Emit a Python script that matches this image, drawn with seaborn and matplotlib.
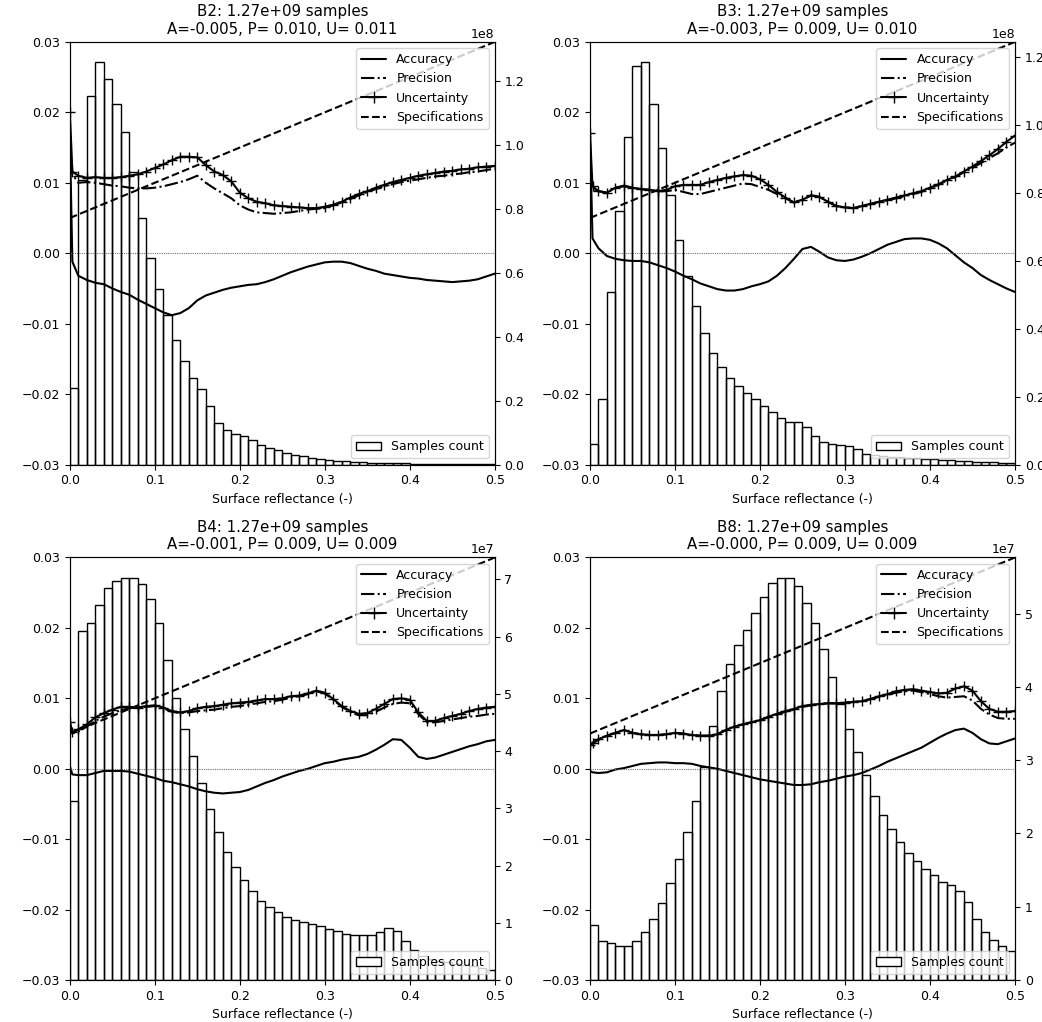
import numpy as np
import matplotlib
matplotlib.use("Agg")
import matplotlib.pyplot as plt
from matplotlib.patches import Patch
from matplotlib.lines import Line2D
import seaborn as sns

# --- data ---
bands = ["B2", "B3", "B4", "B8"]
n_samples = ["1.27e+09", "1.27e+09", "1.27e+09", "1.27e+09"]
acc_mean = ["-0.005", "-0.003", "-0.001", "-0.000"]
prec_mean = ["0.010", "0.009", "0.009", "0.009"]
unc_mean = ["0.011", "0.010", "0.009", "0.009"]

# reflectance grid of the curves
refl = [0.0, 0.003] + [round(0.01 * i, 2) for i in range(1, 51)]

b2_acc = [0.0168, -0.0012, -0.0032, -0.0038, -0.0042, -0.0044, -0.0050, -0.0055, -0.0059, -0.0066,
          -0.0072, -0.0078, -0.0084, -0.0088, -0.0085, -0.0078, -0.0067, -0.0060, -0.0056, -0.0052,
          -0.0049, -0.0047, -0.0045, -0.0044, -0.0041, -0.0037, -0.0032, -0.0027, -0.0023, -0.0019,
          -0.0016, -0.0013, -0.0012, -0.0012, -0.0014, -0.0018, -0.0022, -0.0025, -0.0029, -0.0031,
          -0.0033, -0.0035, -0.0036, -0.0038, -0.0039, -0.0040, -0.0041, -0.0040, -0.0039, -0.0037,
          -0.0033, -0.0029]
b2_prec = [0.0130, 0.0112, 0.0100, 0.0101, 0.0100, 0.0098, 0.0096, 0.0095, 0.0093, 0.0092,
           0.0092, 0.0093, 0.0095, 0.0098, 0.0101, 0.0105, 0.0110, 0.0100, 0.0092, 0.0085,
           0.0078, 0.0068, 0.0062, 0.0058, 0.0057, 0.0056, 0.0057, 0.0058, 0.0060, 0.0062,
           0.0063, 0.0064, 0.0068, 0.0072, 0.0077, 0.0082, 0.0087, 0.0091, 0.0095, 0.0098,
           0.0101, 0.0103, 0.0105, 0.0107, 0.0109, 0.0110, 0.0112, 0.0113, 0.0115, 0.0116,
           0.0118, 0.0120]
b2_unc = [0.0201, 0.0116, 0.0110, 0.0107, 0.0108, 0.0107, 0.0107, 0.0108, 0.0110, 0.0112,
          0.0116, 0.0121, 0.0126, 0.0132, 0.0137, 0.0137, 0.0136, 0.0125, 0.0116, 0.0111,
          0.0102, 0.0086, 0.0078, 0.0073, 0.0071, 0.0068, 0.0067, 0.0066, 0.0065, 0.0064,
          0.0064, 0.0066, 0.0069, 0.0073, 0.0079, 0.0084, 0.0088, 0.0093, 0.0097, 0.0101,
          0.0104, 0.0107, 0.0110, 0.0112, 0.0114, 0.0116, 0.0117, 0.0119, 0.0120, 0.0122,
          0.0123, 0.0124]

b3_acc = [0.0170, 0.0021, 0.0007, -0.0004, -0.0008, -0.0010, -0.0011, -0.0011, -0.0013, -0.0017,
          -0.0021, -0.0026, -0.0032, -0.0037, -0.0043, -0.0047, -0.0051, -0.0053, -0.0053, -0.0051,
          -0.0047, -0.0044, -0.0040, -0.0032, -0.0021, -0.0008, 0.0006, 0.0009, 0.0002, -0.0006,
          -0.0010, -0.0011, -0.0009, -0.0005, 0.0000, 0.0006, 0.0012, 0.0016, 0.0020, 0.0021,
          0.0021, 0.0019, 0.0014, 0.0007, -0.0003, -0.0013, -0.0021, -0.0031, -0.0038, -0.0044,
          -0.0050, -0.0055]
b3_prec = [0.0120, 0.0092, 0.0088, 0.0086, 0.0093, 0.0095, 0.0093, 0.0091, 0.0090, 0.0088,
           0.0088, 0.0090, 0.0087, 0.0084, 0.0084, 0.0087, 0.0090, 0.0093, 0.0096, 0.0099,
           0.0098, 0.0094, 0.0090, 0.0084, 0.0078, 0.0072, 0.0076, 0.0082, 0.0080, 0.0073,
           0.0067, 0.0065, 0.0064, 0.0067, 0.0070, 0.0073, 0.0075, 0.0078, 0.0081, 0.0084,
           0.0087, 0.0092, 0.0097, 0.0103, 0.0108, 0.0115, 0.0121, 0.0128, 0.0135, 0.0142,
           0.0150, 0.0157]
b3_unc = [0.0170, 0.0095, 0.0088, 0.0086, 0.0093, 0.0096, 0.0093, 0.0091, 0.0090, 0.0088,
          0.0090, 0.0095, 0.0097, 0.0097, 0.0097, 0.0101, 0.0104, 0.0107, 0.0109, 0.0111,
          0.0110, 0.0105, 0.0097, 0.0087, 0.0079, 0.0072, 0.0076, 0.0082, 0.0080, 0.0073,
          0.0067, 0.0065, 0.0064, 0.0067, 0.0070, 0.0073, 0.0076, 0.0079, 0.0082, 0.0085,
          0.0088, 0.0093, 0.0098, 0.0104, 0.0109, 0.0116, 0.0123, 0.0131, 0.0139, 0.0148,
          0.0158, 0.0167]

b4_acc = [0.0004, -0.0008, -0.0009, -0.0009, -0.0006, -0.0003, -0.0003, -0.0003, -0.0004, -0.0007,
          -0.0010, -0.0013, -0.0017, -0.0019, -0.0022, -0.0025, -0.0029, -0.0032, -0.0034, -0.0035,
          -0.0034, -0.0033, -0.0030, -0.0025, -0.0020, -0.0016, -0.0011, -0.0007, -0.0003, 0.0000,
          0.0004, 0.0008, 0.0010, 0.0013, 0.0015, 0.0017, 0.0021, 0.0027, 0.0034, 0.0042,
          0.0041, 0.0030, 0.0017, 0.0014, 0.0016, 0.0020, 0.0024, 0.0028, 0.0032, 0.0035,
          0.0039, 0.0041]
b4_prec = [0.0065, 0.0050, 0.0053, 0.0060, 0.0068, 0.0074, 0.0079, 0.0083, 0.0086, 0.0087,
           0.0088, 0.0089, 0.0086, 0.0081, 0.0079, 0.0080, 0.0082, 0.0083, 0.0084, 0.0086,
           0.0088, 0.0089, 0.0091, 0.0093, 0.0095, 0.0096, 0.0098, 0.0101, 0.0103, 0.0106,
           0.0110, 0.0107, 0.0098, 0.0088, 0.0081, 0.0076, 0.0076, 0.0081, 0.0087, 0.0092,
           0.0094, 0.0093, 0.0078, 0.0066, 0.0066, 0.0068, 0.0070, 0.0072, 0.0074, 0.0075,
           0.0077, 0.0078]
b4_unc = [0.0066, 0.0052, 0.0056, 0.0063, 0.0073, 0.0079, 0.0084, 0.0088, 0.0088, 0.0087,
          0.0089, 0.0090, 0.0087, 0.0082, 0.0080, 0.0082, 0.0086, 0.0088, 0.0089, 0.0091,
          0.0093, 0.0094, 0.0095, 0.0097, 0.0099, 0.0099, 0.0100, 0.0103, 0.0104, 0.0107,
          0.0111, 0.0108, 0.0099, 0.0089, 0.0082, 0.0078, 0.0079, 0.0085, 0.0092, 0.0099,
          0.0100, 0.0098, 0.0080, 0.0068, 0.0068, 0.0072, 0.0075, 0.0078, 0.0082, 0.0085,
          0.0087, 0.0088]

b8_acc = [-0.0003, -0.0005, -0.0006, -0.0005, -0.0001, 0.0001, 0.0004, 0.0007, 0.0008, 0.0009,
          0.0009, 0.0008, 0.0008, 0.0007, 0.0004, 0.0002, 0.0000, -0.0003, -0.0006, -0.0009,
          -0.0012, -0.0015, -0.0017, -0.0019, -0.0021, -0.0023, -0.0023, -0.0022, -0.0019, -0.0017,
          -0.0014, -0.0011, -0.0009, -0.0006, -0.0001, 0.0004, 0.0010, 0.0015, 0.0020, 0.0025,
          0.0030, 0.0037, 0.0044, 0.0050, 0.0055, 0.0057, 0.0051, 0.0042, 0.0036, 0.0035,
          0.0039, 0.0043]
b8_prec = [0.0033, 0.0036, 0.0041, 0.0047, 0.0051, 0.0055, 0.0051, 0.0049, 0.0048, 0.0048,
           0.0049, 0.0051, 0.0050, 0.0048, 0.0047, 0.0047, 0.0049, 0.0055, 0.0060, 0.0063,
           0.0066, 0.0069, 0.0073, 0.0077, 0.0081, 0.0084, 0.0088, 0.0090, 0.0092, 0.0093,
           0.0093, 0.0094, 0.0095, 0.0096, 0.0099, 0.0102, 0.0105, 0.0108, 0.0110, 0.0111,
           0.0109, 0.0106, 0.0103, 0.0101, 0.0102, 0.0103, 0.0097, 0.0085, 0.0077, 0.0072,
           0.0071, 0.0071]
b8_unc = [0.0034, 0.0037, 0.0042, 0.0047, 0.0051, 0.0055, 0.0051, 0.0049, 0.0048, 0.0048,
          0.0049, 0.0051, 0.0050, 0.0048, 0.0047, 0.0047, 0.0049, 0.0055, 0.0060, 0.0063,
          0.0066, 0.0069, 0.0074, 0.0078, 0.0082, 0.0085, 0.0089, 0.0091, 0.0092, 0.0093,
          0.0093, 0.0094, 0.0095, 0.0096, 0.0099, 0.0103, 0.0106, 0.0110, 0.0112, 0.0113,
          0.0111, 0.0109, 0.0107, 0.0108, 0.0114, 0.0117, 0.0111, 0.0096, 0.0085, 0.0081,
          0.0081, 0.0082]

# specification line end points
spec_refl = [0.0, 0.5]
spec_vals = [0.005, 0.030]

# histogram: 50 bins of 0.01 reflectance
bin_edges = [round(0.01 * i, 2) for i in range(51)]
b2_counts = [0.241, 0.89, 1.154, 1.260, 1.206, 1.130, 1.040, 0.915, 0.773, 0.647,
             0.550, 0.469, 0.391, 0.325, 0.270, 0.236, 0.183, 0.130, 0.107, 0.096,
             0.090, 0.078, 0.0625, 0.052, 0.045, 0.0375, 0.031, 0.026, 0.021, 0.017,
             0.0146, 0.0125, 0.010, 0.008, 0.007, 0.006, 0.005, 0.0045, 0.004, 0.0035,
             0.003, 0.0027, 0.0024, 0.002, 0.0018, 0.0015, 0.0013, 0.0011, 0.001, 0.0008]
b3_counts = [0.059, 0.194, 0.508, 0.748, 0.964, 1.175, 1.186, 1.062, 0.932, 0.794,
             0.662, 0.555, 0.467, 0.388, 0.329, 0.287, 0.255, 0.230, 0.211, 0.192,
             0.173, 0.155, 0.137, 0.125, 0.125, 0.111, 0.083, 0.067, 0.059, 0.057,
             0.055, 0.047, 0.032, 0.027, 0.025, 0.023, 0.021, 0.019, 0.018, 0.016,
             0.015, 0.014, 0.012, 0.010, 0.009, 0.008, 0.007, 0.006, 0.005, 0.004]
b4_counts = [3.13, 6.10, 6.23, 6.56, 6.84, 6.97, 7.03, 7.03, 6.91, 6.65,
             6.23, 5.59, 4.92, 4.38, 3.91, 3.45, 2.99, 2.58, 2.24, 1.97,
             1.74, 1.55, 1.39, 1.27, 1.19, 1.11, 1.05, 1.01, 0.98, 0.94,
             0.90, 0.85, 0.81, 0.78, 0.78, 0.78, 0.835, 0.91, 0.85, 0.68,
             0.52, 0.42, 0.37, 0.34, 0.31, 0.28, 0.26, 0.24, 0.21, 0.18]
b8_counts = [0.745, 0.54, 0.50, 0.47, 0.46, 0.53, 0.65, 0.84, 1.05, 1.33,
             1.65, 2.02, 2.44, 2.90, 3.47, 3.95, 4.31, 4.57, 4.77, 5.01,
             5.23, 5.41, 5.49, 5.48, 5.37, 5.15, 4.87, 4.51, 4.13, 3.77,
             3.43, 3.11, 2.80, 2.51, 2.25, 2.06, 1.88, 1.74, 1.62, 1.52,
             1.43, 1.34, 1.30, 1.22, 1.06, 0.84, 0.66, 0.55, 0.47, 0.40]
count_scale = [1e8, 1e8, 1e7, 1e7]

accs = [b2_acc, b3_acc, b4_acc, b8_acc]
precs = [b2_prec, b3_prec, b4_prec, b8_prec]
uncs = [b2_unc, b3_unc, b4_unc, b8_unc]
counts = [b2_counts, b3_counts, b4_counts, b8_counts]

# --- plotting ---
sns.set_style("ticks")
plt.rcParams["font.family"] = ["DejaVu Sans"]
plt.rcParams["font.size"] = 9
plt.rcParams["axes.edgecolor"] = "black"
plt.rcParams["text.color"] = "black"
plt.rcParams["axes.labelcolor"] = "black"
plt.rcParams["xtick.color"] = "black"
plt.rcParams["ytick.color"] = "black"

fig, axes = plt.subplots(2, 2, figsize=(10.42, 10.22), dpi=100)
fig.subplots_adjust(left=0.067, right=0.974, top=0.959, bottom=0.041,
                    wspace=0.224, hspace=0.22)

bin_centers = [0.5 * (bin_edges[i] + bin_edges[i + 1]) for i in range(50)]

for k, ax in enumerate(axes.flat):
    sns.lineplot(x=refl, y=accs[k], ax=ax, color="black", lw=1.5, legend=False)
    sns.lineplot(x=refl, y=precs[k], ax=ax, color="black", lw=1.5, linestyle="-.", legend=False)
    sns.lineplot(x=refl, y=uncs[k], ax=ax, color="black", lw=1.5, marker="+", markersize=7,
                 markeredgewidth=1.0, markeredgecolor="black", legend=False)
    sns.lineplot(x=spec_refl, y=spec_vals, ax=ax, color="black", lw=1.5, linestyle="--",
                 legend=False)
    ax.axhline(0, color="0.45", lw=0.8, ls=(0, (1, 1)))
    ax.set_xlim(0, 0.5)
    ax.set_ylim(-0.03, 0.03)
    ax.set_xlabel("Surface reflectance (-)")
    ax.set_ylabel("")
    ax.set_title(f"{bands[k]}: {n_samples[k]} samples\n"
                 f"A={acc_mean[k]}, P= {prec_mean[k]}, U= {unc_mean[k]}",
                 fontsize=10.8, color="black")
    handles = [Line2D([], [], color="black", lw=1.5),
               Line2D([], [], color="black", lw=1.5, ls="-."),
               Line2D([], [], color="black", lw=1.5, marker="+", markersize=8),
               Line2D([], [], color="black", lw=1.5, ls="--")]
    ax.legend(handles, ["Accuracy", "Precision", "Uncertainty", "Specifications"],
              loc="upper right", fontsize=9)

    ax2 = ax.twinx()
    w = np.array(counts[k]) * count_scale[k]
    sns.histplot(x=bin_centers, weights=w, bins=bin_edges, ax=ax2, fill=False,
                 color="black", linewidth=1.0, element="bars")
    ax2.set_ylabel("")
    ax2.set_xlim(0, 0.5)
    ax2.legend([Patch(facecolor="white", edgecolor="black")], ["Samples count"],
               loc="lower right", fontsize=9)

fig.savefig("out.png", dpi=100)
